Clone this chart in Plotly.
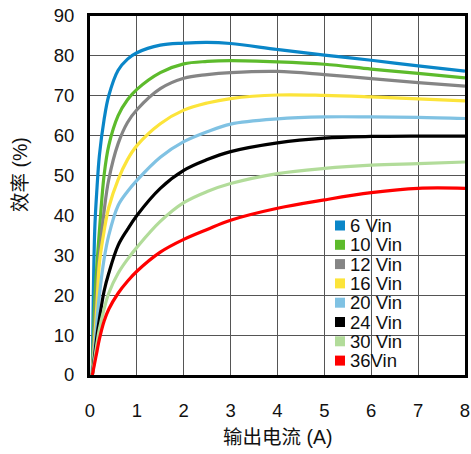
import plotly.graph_objects as go

x_current = [0.05, 0.1, 0.15, 0.2, 0.3, 0.4, 0.6, 0.8, 1.0, 1.5, 2, 2.5, 3, 4, 5, 6, 7, 8]

eff_6vin = [0, 36, 47, 55, 64, 70, 76.4, 79.2, 80.8, 82.7, 83.2, 83.4, 83.1, 81.6, 80.2, 78.9, 77.5, 76.2]
eff_10vin = [0, 18, 28, 36, 50, 57.5, 65, 69, 71.6, 75.8, 78, 78.6, 78.8, 78.5, 77.9, 76.7, 75.6, 74.5]
eff_12vin = [0, 12, 22, 30, 41, 49, 58, 63.3, 66.5, 71.8, 74.4, 75.3, 75.8, 76.1, 75.3, 74.3, 73.3, 72.4]
eff_16vin = [0, 9, 18, 28, 36, 42, 49, 54, 57.5, 63, 66.4, 68.2, 69.3, 70.2, 70.1, 69.7, 69.2, 68.7]
eff_20vin = [0, 7, 14, 20, 29, 35, 42.5, 46, 48.8, 54.6, 58.5, 61, 62.9, 64.2, 64.7, 64.7, 64.6, 64.3]
eff_24vin = [0, 5, 10, 14, 21, 25.5, 32.5, 36.5, 40, 46.8, 51.3, 54, 56, 58.2, 59.4, 59.8, 59.9, 59.9]
eff_30vin = [0, 4, 8, 11.5, 16.5, 20.5, 25.5, 29, 32, 38.5, 43.2, 46, 48, 50.5, 51.8, 52.6, 53.0, 53.4]
eff_36vin = [0, 3, 6, 9, 13.5, 16.5, 20.5, 23.5, 26, 30.8, 34, 36.5, 38.8, 41.8, 43.9, 45.7, 46.8, 46.8]

series_names = ["6 Vin", "10 Vin", "12 Vin", "16 Vin", "20 Vin", "24 Vin", "30 Vin", "36Vin"]
series_values = [eff_6vin, eff_10vin, eff_12vin, eff_16vin, eff_20vin, eff_24vin, eff_30vin, eff_36vin]
series_colors = ["#0a86c8", "#5dbb2c", "#858585", "#fce43a", "#80c2e3", "#000000", "#b2dc9a", "#ff0000"]

x_ticks = [0, 1, 2, 3, 4, 5, 6, 7, 8]
y_ticks = [0, 10, 20, 30, 40, 50, 60, 70, 80, 90]

FONT = "Arial, Liberation Sans, Noto Sans CJK SC, sans-serif"

# pixel geometry of the plot area
PL, PR, PT, PB = 90, 465, 16, 375
PW, PH = PR - PL, PB - PT


def px(xp):
    return (xp - PL) / PW


def py(yp):
    return (PB - yp) / PH


fig = go.Figure()
for name, vals, col in zip(series_names, series_values, series_colors):
    fig.add_trace(go.Scatter(x=x_current, y=vals, mode="lines", name=name,
                             line=dict(color=col, width=3.2, shape="spline", smoothing=1.0),
                             showlegend=False, hoverinfo="skip"))

# legend box (white background over the grid), square swatches and labels
shapes = [dict(type="rect", xref="paper", yref="paper", x0=px(331), x1=px(423), y0=py(373), y1=py(213),
               fillcolor="white", line=dict(width=0), layer="between")]
annotations = []
for i, (name, col) in enumerate(zip(series_names, series_colors)):
    yc = 225.5 + 19.3 * i
    shapes.append(dict(type="rect", xref="paper", yref="paper", x0=px(335), x1=px(345),
                       y0=py(yc + 5), y1=py(yc - 5), fillcolor=col, line=dict(width=0), layer="above"))
    annotations.append(dict(text=name, xref="paper", yref="paper", x=px(348), y=py(yc),
                            xanchor="left", yanchor="middle", showarrow=False,
                            font=dict(size=18.5, family=FONT, color="#111")))

annotations += [
    dict(text="输出电流 (A)", xref="paper", yref="paper", x=0.5, y=py(437),
         xanchor="center", yanchor="middle", showarrow=False, font=dict(size=19.5)),
    dict(text="效率 (%)", xref="paper", yref="paper", x=px(20), y=py(175),
         xanchor="center", yanchor="middle", textangle=-90, showarrow=False, font=dict(size=19.5)),
]

fig.update_layout(
    width=471, height=454,
    margin=dict(l=PL, r=471 - PR, t=PT, b=454 - PB),
    paper_bgcolor="white", plot_bgcolor="white",
    font=dict(family=FONT, size=18.5, color="#111"),
    showlegend=False,
    xaxis=dict(range=[0, 8], tickvals=x_ticks, showgrid=True, gridcolor="#555", gridwidth=1.3,
               showline=True, linecolor="black", linewidth=3, mirror=True, zeroline=False,
               automargin=False, ticks="", ticklabelstandoff=17, ticklabeloverflow="allow",
               tickfont=dict(size=18.5)),
    yaxis=dict(range=[0, 90], tickvals=y_ticks, showgrid=True, gridcolor="#555", gridwidth=1.3,
               showline=True, linecolor="black", linewidth=3, mirror=True, zeroline=False,
               automargin=False, ticks="", ticklabelstandoff=9, ticklabeloverflow="allow",
               tickfont=dict(size=18.5)),
    shapes=shapes,
    annotations=annotations,
)

fig.write_html("out.html", config={"displayModeBar": False},
               post_script="document.body.style.margin='0';document.body.style.overflow='hidden';")
